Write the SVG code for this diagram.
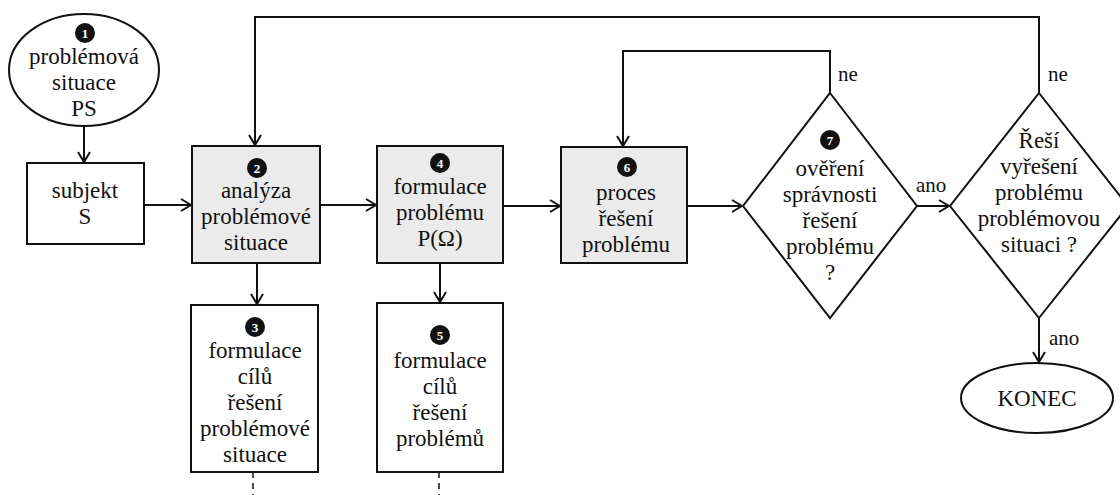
<svg xmlns="http://www.w3.org/2000/svg" width="1120" height="495" viewBox="0 0 1120 495" font-family="Liberation Serif, Times New Roman, serif">
<style>
.s{fill:none;stroke:#111;stroke-width:2}
.w{fill:#fff;stroke:#111;stroke-width:2}
.g{fill:#ebebeb;stroke:#111;stroke-width:2}
text{font-size:23px;fill:#111;text-anchor:middle}
text.n{font-size:13px;font-weight:bold;fill:#fff}
text.l{text-anchor:start;font-size:21px}
.d{fill:none;stroke:#111;stroke-width:1.5;stroke-dasharray:6 5}
</style>
<defs>
<marker id="a" markerWidth="14" markerHeight="14" refX="12" refY="7" orient="auto" markerUnits="userSpaceOnUse">
<path d="M2,1 L12,7 L2,13" fill="none" stroke="#111" stroke-width="2"/>
</marker>
</defs>
<rect width="1120" height="495" fill="#fff"/>
<g id="connectors">
<path class="s" d="M84,126 V162" marker-end="url(#a)"/>
<path class="s" d="M144,205 H191" marker-end="url(#a)"/>
<path class="s" d="M320,205 H376" marker-end="url(#a)"/>
<path class="s" d="M503,206 H560" marker-end="url(#a)"/>
<path class="s" d="M687,206 H742" marker-end="url(#a)"/>
<path class="s" d="M917,206 H949" marker-end="url(#a)"/>
<path class="s" d="M257,263 V304" marker-end="url(#a)"/>
<path class="s" d="M440,263 V302" marker-end="url(#a)"/>
<path class="s" d="M830,93 V51 H623 V146" marker-end="url(#a)"/>
<path class="s" d="M1039,93 V17 H255 V145" marker-end="url(#a)"/>
<path class="s" d="M1039,318 V362" marker-end="url(#a)"/>
<path class="d" d="M253,472 V495"/>
<path class="d" d="M439,472 V495"/>
<text class="l" x="838" y="81">ne</text>
<text class="l" x="1048" y="81">ne</text>
<text class="l" x="916" y="192">ano</text>
<text class="l" x="1049" y="345">ano</text>
</g>
<g id="n1">
<ellipse class="w" cx="84" cy="70" rx="75" ry="56"/>
<circle cx="85" cy="33" r="10" fill="#111"/><text class="n" x="85" y="38">1</text>
<text x="84" y="64">problémová</text>
<text x="84" y="90">situace</text>
<text x="84" y="116">PS</text>
</g>
<g id="subjekt">
<rect class="w" x="27" y="163" width="117" height="81"/>
<text x="85" y="198">subjekt</text>
<text x="85" y="224">S</text>
</g>
<g id="n2">
<rect class="g" x="192" y="146" width="128" height="117"/>
<circle cx="257" cy="168" r="10" fill="#111"/><text class="n" x="257" y="173">2</text>
<text x="256" y="198">analýza</text>
<text x="256" y="224">problémové</text>
<text x="256" y="250">situace</text>
</g>
<g id="n4">
<rect class="g" x="377" y="146" width="126" height="117"/>
<circle cx="440" cy="163" r="10" fill="#111"/><text class="n" x="440" y="168">4</text>
<text x="440" y="194">formulace</text>
<text x="440" y="220">problému</text>
<text x="440" y="246">P(Ω)</text>
</g>
<g id="n3">
<rect class="w" x="191" y="305" width="127" height="167"/>
<circle cx="255" cy="327" r="10" fill="#111"/><text class="n" x="255" y="332">3</text>
<text x="255" y="358">formulace</text>
<text x="255" y="384">cílů</text>
<text x="255" y="410">řešení</text>
<text x="255" y="436">problémové</text>
<text x="255" y="462">situace</text>
</g>
<g id="n5">
<rect class="w" x="377" y="303" width="126" height="169"/>
<circle cx="440" cy="335" r="10" fill="#111"/><text class="n" x="440" y="340">5</text>
<text x="440" y="368">formulace</text>
<text x="440" y="394">cílů</text>
<text x="440" y="420">řešení</text>
<text x="440" y="446">problémů</text>
</g>
<g id="n6">
<rect class="g" x="561" y="147" width="126" height="116"/>
<circle cx="627" cy="167" r="10" fill="#111"/><text class="n" x="627" y="172">6</text>
<text x="626" y="200">proces</text>
<text x="626" y="226">řešení</text>
<text x="626" y="252">problému</text>
</g>
<g id="n7">
<polygon class="w" points="830,93 917,206 830,318 743,206"/>
<circle cx="830" cy="140" r="10" fill="#111"/><text class="n" x="830" y="145">7</text>
<text x="830" y="176">ověření</text>
<text x="830" y="202">správnosti</text>
<text x="830" y="228">řešení</text>
<text x="830" y="254">problému</text>
<text x="830" y="280">?</text>
</g>
<g id="n8">
<polygon class="w" points="1039,93 1128,206 1039,318 950,206"/>
<text x="1039" y="148">Řeší</text>
<text x="1039" y="174">vyřešení</text>
<text x="1039" y="200">problému</text>
<text x="1039" y="226">problémovou</text>
<text x="1039" y="252">situaci ?</text>
</g>
<g id="konec">
<ellipse class="w" cx="1037" cy="398" rx="76" ry="35"/>
<text x="1037" y="406">KONEC</text>
</g>
</svg>
